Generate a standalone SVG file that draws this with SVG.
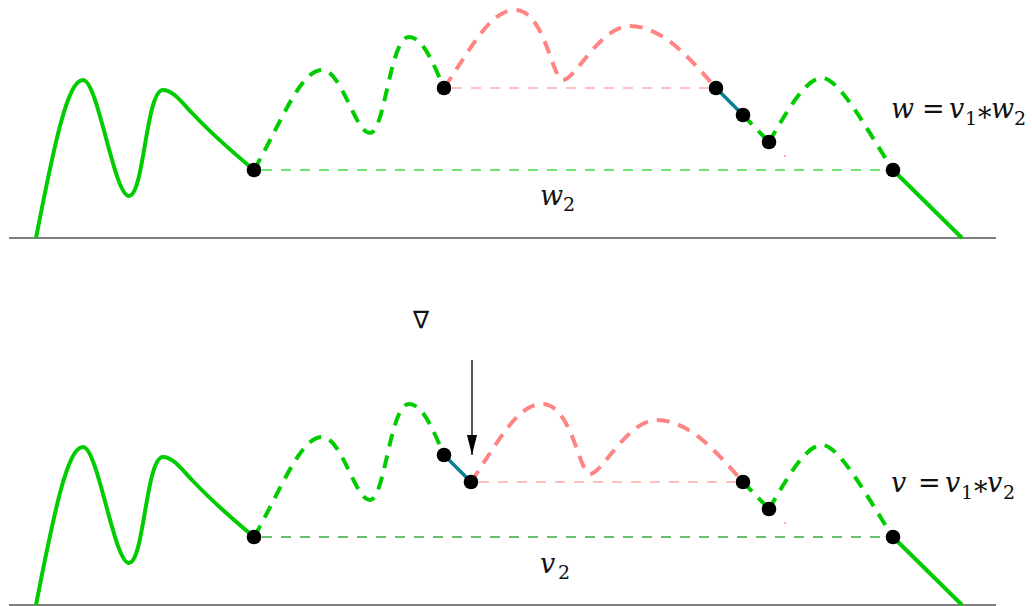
<svg xmlns="http://www.w3.org/2000/svg" width="1032" height="606" viewBox="0 0 1032 606">
<defs>
<style>
.base{stroke:#555;stroke-width:1.4;fill:none}
.gs{stroke:#00cc00;stroke-width:4;fill:none;stroke-linecap:butt}
.gd{stroke:#00cc00;stroke-width:4;fill:none;stroke-dasharray:13,9}
.pd{stroke:#ff8585;stroke-width:4;fill:none;stroke-dasharray:13,9}
.teal{stroke:#0a8090;stroke-width:3.5;fill:none}
.hg{stroke:#44dd44;stroke-width:1.3;fill:none;stroke-dasharray:10,9}
.hg2{stroke:#3aaa3a;stroke-width:1.3;fill:none;stroke-dasharray:10,9}
.hp{stroke:#ff8080;stroke-width:1.2;fill:none;stroke-dasharray:10,9}
.dot{fill:#000}
.m{font-size:27px;fill:#111}
.i{font-style:italic}
.s{font-size:19px;font-style:normal}
</style>
<marker id="ah" viewBox="0 0 20 10" refX="20" refY="5" markerWidth="20" markerHeight="10" markerUnits="userSpaceOnUse" orient="auto">
<path d="M0,0 L20,5 L0,10 Z" fill="#000"/>
</marker>
</defs>

<g id="top">
<line class="base" x1="9" y1="238" x2="996" y2="238"/>
<g id="connectors-top">
<path class="gs" d="M36,238 C55,140 68,80 83,80 C98,80 114,196 129,196 C144,196 146,90 163,90 C172,90 180,100 192,113 C210,132 230,150 254,170"/>
<path class="gd" d="M254,170 C280,125 300,70 322,70 C342,70 355,133 370,133 C385,133 390,37 409,37 C424,37 435,68 444,88"/>
<path class="pd" d="M444,88 C470,50 490,10 515,10 C545,10 552,80 563,80 C575,80 600,26 630,26 C665,26 695,65 716,88"/>
<line class="hp" x1="452" y1="88" x2="708" y2="88"/>
<line class="hg" x1="262" y1="170" x2="885" y2="170"/>
<line class="teal" x1="716" y1="88" x2="743" y2="115"/>
<line class="gd" x1="743" y1="115" x2="769" y2="142"/>
<path class="gd" d="M769,142 C785,115 805,78 822,78 C840,78 870,135 893,170"/>
<line class="gs" x1="893" y1="170" x2="962" y2="238"/>
<circle cx="785" cy="156" r="0.9" fill="#ff8080"/>
</g>
<g id="dots-top">
<circle class="dot" cx="254" cy="170" r="7.3"/>
<circle class="dot" cx="444" cy="88" r="7.3"/>
<circle class="dot" cx="716" cy="88" r="7.3"/>
<circle class="dot" cx="743" cy="115" r="7.3"/>
<circle class="dot" cx="769" cy="142" r="7.3"/>
<circle class="dot" cx="893" cy="170" r="7.3"/>
</g>
<g id="label-w2">
<text class="m" font-family="'DejaVu Serif', serif"><tspan class="i" x="540" y="205">w</tspan><tspan class="s" x="563" y="211">2</tspan></text>
</g>
<g id="label-w">
<text class="m" font-family="'DejaVu Serif', serif"><tspan class="i" x="891" y="118">w</tspan><tspan x="922" y="118">=</tspan><tspan class="i" x="949" y="118">v</tspan><tspan class="s" x="965" y="125">1</tspan><tspan x="978" y="127">*</tspan><tspan class="i" x="991" y="118">w</tspan><tspan class="s" x="1014" y="125">2</tspan></text>
</g>
</g>

<g id="bottom">
<line class="base" x1="9" y1="605" x2="996" y2="605"/>
<g id="connectors-bottom">
<g transform="translate(0,367)">
<path class="gs" d="M36,238 C55,140 68,80 83,80 C98,80 114,196 129,196 C144,196 146,90 163,90 C172,90 180,100 192,113 C210,132 230,150 254,170"/>
<path class="gd" d="M254,170 C280,125 300,70 322,70 C342,70 355,133 370,133 C385,133 390,37 409,37 C424,37 435,68 444,88"/>
<line class="teal" x1="444" y1="88" x2="471" y2="115"/>
<line class="gd" x1="743" y1="115" x2="769" y2="142"/>
<path class="gd" d="M769,142 C785,115 805,78 822,78 C840,78 870,135 893,170"/>
<line class="gs" x1="893" y1="170" x2="962" y2="238"/>
<circle cx="785" cy="156" r="0.9" fill="#ff8080"/>
</g>
<path class="pd" transform="translate(27,394)" d="M444,88 C470,50 490,10 515,10 C545,10 552,80 563,80 C575,80 600,26 630,26 C665,26 695,65 716,88"/>
<line class="hp" x1="479" y1="482" x2="735" y2="482"/>
<line class="hg2" x1="262" y1="537" x2="885" y2="537"/>
<line x1="472" y1="360" x2="472" y2="455" stroke="#000" stroke-width="1.3" marker-end="url(#ah)"/>
</g>
<g id="dots-bottom">
<circle class="dot" cx="254" cy="537" r="7.3"/>
<circle class="dot" cx="444" cy="455" r="7.3"/>
<circle class="dot" cx="471" cy="482" r="7.3"/>
<circle class="dot" cx="743" cy="482" r="7.3"/>
<circle class="dot" cx="769" cy="509" r="7.3"/>
<circle class="dot" cx="893" cy="537" r="7.3"/>
</g>
<g id="label-nabla">
<text x="421" y="328" text-anchor="middle" font-family="'DejaVu Sans', sans-serif" font-size="24" fill="#111">∇</text>
</g>
<g id="label-v2">
<text class="m" font-family="'DejaVu Serif', serif"><tspan class="i" x="540" y="573">v</tspan><tspan class="s" x="558" y="579">2</tspan></text>
</g>
<g id="label-v">
<text class="m" font-family="'DejaVu Serif', serif"><tspan class="i" x="891" y="492">v</tspan><tspan x="918" y="492">=</tspan><tspan class="i" x="945" y="492">v</tspan><tspan class="s" x="961" y="499">1</tspan><tspan x="974" y="501">*</tspan><tspan class="i" x="987" y="492">v</tspan><tspan class="s" x="1003" y="499">2</tspan></text>
</g>
</g>
</svg>
